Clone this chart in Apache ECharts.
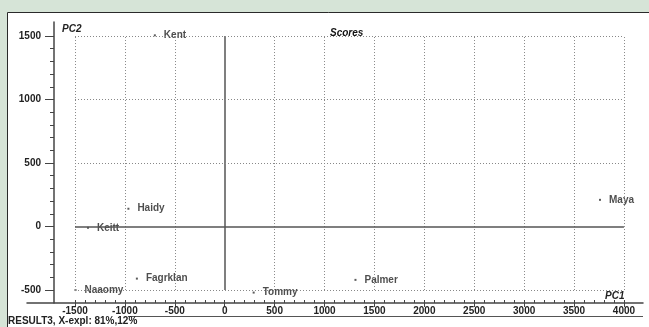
<!DOCTYPE html>
<html>
<head>
<meta charset="utf-8">
<script src="https://cdn.jsdelivr.net/npm/echarts@6/dist/echarts.min.js"></script>
<style>
  html, body { margin: 0; padding: 0; background: #d6e4d7; }
  #chart { width: 649px; height: 327px; }
</style>
</head>
<body>
<div id="chart"></div>
<script>
// Score plot: PC1 vs PC2 per sample
const names = ['Kent', 'Haidy', 'Keitt', 'Fagrklan', 'Naaomy', 'Tommy', 'Palmer', 'Maya'];
const pc1   = [-700, -965, -1370, -880, -1495, 290, 1310, 3760];
const pc2   = [1505, 140, -10, -410, -500, -520, -420, 210];

// Axis tick labels
const xTicks = [-1500, -1000, -500, 0, 500, 1000, 1500, 2000, 2500, 3000, 3500, 4000];
const yTicks = [-500, 0, 500, 1000, 1500];

// Minor tick positions every 100 between the outer major ticks
const xMinor = [];
for (let v = xTicks[0]; v <= xTicks[xTicks.length - 1]; v += 100) xMinor.push(v);
const yMinor = [];
for (let v = yTicks[0]; v <= yTicks[yTicks.length - 1]; v += 100) yMinor.push(v);

const xLo = xTicks[0], xHi = xTicks[xTicks.length - 1];
const yLo = yTicks[0], yHi = yTicks[yTicks.length - 1];

// Dotted grid and solid zero lines, drawn in data space
const dotted = { color: '#888', type: [1, 2], width: 1 };
const solid = { color: '#555', type: 'solid', width: 1.5 };
const gridLines = [];
xTicks.forEach(v => gridLines.push([
  { coord: [v, yLo], lineStyle: v === 0 ? solid : dotted },
  { coord: [v, yHi] }
]));
yTicks.forEach(v => gridLines.push([
  { coord: [xLo, v], lineStyle: v === 0 ? solid : dotted },
  { coord: [xHi, v] }
]));

const font = 'Liberation Sans, Arial, sans-serif';
const axisColor = '#444';
const plain = v => String(v);

const chart = echarts.init(document.getElementById('chart'), null, { renderer: 'canvas' });
chart.setOption({
  animation: false,
  backgroundColor: '#d6e4d7',
  grid: { left: 27, right: 6, top: 22, bottom: 24, containLabel: false },
  graphic: [
    { type: 'rect', z: -10, shape: { x: 7.5, y: 12.5, width: 700, height: 400 },
      style: { fill: '#ffffff', stroke: '#2a2a2a', lineWidth: 1 } },
    { type: 'line', z: 5, shape: { x1: 128, y1: 316.5, x2: 643, y2: 316.5 },
      style: { stroke: '#555', lineWidth: 1.2 } },
    { type: 'text', z: 6, left: 8, top: 316,
      style: { text: 'RESULT3, X-expl: 81%,12%', font: 'bold 10px ' + font, fill: '#222' } },
    { type: 'text', z: 6, left: 330, top: 28,
      style: { text: 'Scores', font: 'italic bold 10px ' + font, fill: '#111' } },
    { type: 'text', z: 6, left: 62, top: 24,
      style: { text: 'PC2', font: 'italic bold 10px ' + font, fill: '#222' } },
    { type: 'text', z: 6, left: 605, top: 291,
      style: { text: 'PC1', font: 'italic bold 10px ' + font, fill: '#222' } }
  ],
  xAxis: [
    {
      type: 'value', min: -1981, max: 4191, position: 'bottom',
      axisLine: { show: true, onZero: false, lineStyle: { color: axisColor, width: 1.5 } },
      axisTick: { show: true, customValues: xTicks, length: 4, lineStyle: { color: axisColor } },
      axisLabel: { show: true, customValues: xTicks, formatter: plain, margin: 3,
                   fontSize: 10, fontWeight: 'bold', fontFamily: font, color: '#222' },
      splitLine: { show: false }
    },
    {
      type: 'value', min: -1981, max: 4191, position: 'bottom',
      axisLine: { show: false, onZero: false },
      axisTick: { show: true, customValues: xMinor, inside: true, length: 3, lineStyle: { color: axisColor } },
      axisLabel: { show: false },
      splitLine: { show: false }
    }
  ],
  yAxis: [
    {
      type: 'value', min: -602, max: 1610, position: 'left', offset: -27,
      axisLine: { show: true, onZero: false, lineStyle: { color: axisColor, width: 1.5 } },
      axisTick: { show: true, customValues: yTicks, length: 9, lineStyle: { color: axisColor } },
      axisLabel: { show: true, customValues: yTicks, formatter: plain, margin: 13,
                   fontSize: 10, fontWeight: 'bold', fontFamily: font, color: '#222' },
      splitLine: { show: false }
    },
    {
      type: 'value', min: -602, max: 1610, position: 'left', offset: -27,
      axisLine: { show: false, onZero: false },
      axisTick: { show: true, customValues: yMinor, length: 4, lineStyle: { color: axisColor } },
      axisLabel: { show: false },
      splitLine: { show: false }
    }
  ],
  series: [
    {
      type: 'scatter',
      xAxisIndex: 0, yAxisIndex: 0,
      data: names.map((n, i) => ({ name: n, value: [pc1[i], pc2[i]] })),
      symbol: 'rect', symbolSize: 2,
      itemStyle: { color: '#333' },
      label: {
        show: true, position: 'right', distance: 7,
        formatter: p => p.name,
        fontSize: 10, fontWeight: 'bold', fontFamily: font, color: '#222',
        backgroundColor: '#fff', padding: [0, 1]
      },
      z: 4,
      markLine: {
        silent: true, symbol: 'none', label: { show: false },
        emphasis: { disabled: true },
        data: gridLines
      }
    }
  ]
});
</script>
</body>
</html>
